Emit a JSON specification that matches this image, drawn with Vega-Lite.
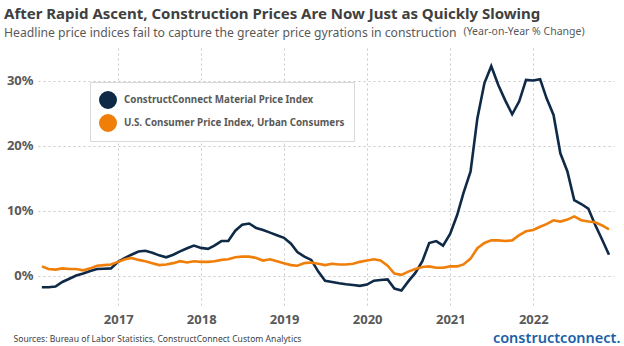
{
  "$schema": "https://vega.github.io/schema/vega-lite/v6.json",
  "width": 576,
  "height": 260,
  "autosize": {"type": "none"},
  "padding": {"left": 38, "top": 48, "right": 10, "bottom": 38},
  "background": "white",
  "config": {"view": {"stroke": null}, "font": "Noto Sans"},
  "title": {
    "text": "After Rapid Ascent, Construction Prices Are Now Just as Quickly Slowing",
    "subtitle": "Headline price indices fail to capture the greater price gyrations in construction",
    "anchor": "start",
    "frame": "group",
    "dx": -34,
    "offset": -13,
    "font": "Noto Sans",
    "fontSize": 15,
    "fontWeight": "bold",
    "color": "#404040",
    "subtitleFont": "Noto Sans",
    "subtitleFontSize": 12.2,
    "subtitleColor": "#595959",
    "subtitlePadding": 5
  },
  "data": {"values": [
    {"date": "2016-01-31", "mpi": -1.8, "cpi": 1.4},
    {"date": "2016-02-29", "mpi": -1.8, "cpi": 1.0},
    {"date": "2016-03-31", "mpi": -1.7, "cpi": 0.9},
    {"date": "2016-04-30", "mpi": -1.0, "cpi": 1.1},
    {"date": "2016-05-31", "mpi": -0.5, "cpi": 1.0},
    {"date": "2016-06-30", "mpi": 0.0, "cpi": 1.0},
    {"date": "2016-07-31", "mpi": 0.3, "cpi": 0.8},
    {"date": "2016-08-31", "mpi": 0.7, "cpi": 1.1},
    {"date": "2016-09-30", "mpi": 1.0, "cpi": 1.5},
    {"date": "2016-10-31", "mpi": 1.05, "cpi": 1.6},
    {"date": "2016-11-30", "mpi": 1.1, "cpi": 1.7},
    {"date": "2016-12-31", "mpi": 2.1, "cpi": 2.1},
    {"date": "2017-01-31", "mpi": 2.7, "cpi": 2.5},
    {"date": "2017-02-28", "mpi": 3.2, "cpi": 2.7},
    {"date": "2017-03-31", "mpi": 3.7, "cpi": 2.4},
    {"date": "2017-04-30", "mpi": 3.8, "cpi": 2.2},
    {"date": "2017-05-31", "mpi": 3.5, "cpi": 1.9},
    {"date": "2017-06-30", "mpi": 3.1, "cpi": 1.6},
    {"date": "2017-07-31", "mpi": 2.8, "cpi": 1.7},
    {"date": "2017-08-31", "mpi": 3.2, "cpi": 1.9},
    {"date": "2017-09-30", "mpi": 3.7, "cpi": 2.2},
    {"date": "2017-10-31", "mpi": 4.2, "cpi": 2.0},
    {"date": "2017-11-30", "mpi": 4.6, "cpi": 2.2},
    {"date": "2017-12-31", "mpi": 4.25, "cpi": 2.1},
    {"date": "2018-01-31", "mpi": 4.1, "cpi": 2.1},
    {"date": "2018-02-28", "mpi": 4.6, "cpi": 2.2},
    {"date": "2018-03-31", "mpi": 5.3, "cpi": 2.4},
    {"date": "2018-04-30", "mpi": 5.3, "cpi": 2.5},
    {"date": "2018-05-31", "mpi": 6.9, "cpi": 2.8},
    {"date": "2018-06-30", "mpi": 7.8, "cpi": 2.9},
    {"date": "2018-07-31", "mpi": 8.0, "cpi": 2.9},
    {"date": "2018-08-31", "mpi": 7.3, "cpi": 2.7},
    {"date": "2018-09-30", "mpi": 7.0, "cpi": 2.3},
    {"date": "2018-10-31", "mpi": 6.6, "cpi": 2.5},
    {"date": "2018-11-30", "mpi": 6.2, "cpi": 2.2},
    {"date": "2018-12-31", "mpi": 5.8, "cpi": 1.9},
    {"date": "2019-01-31", "mpi": 4.9, "cpi": 1.6},
    {"date": "2019-02-28", "mpi": 3.6, "cpi": 1.5},
    {"date": "2019-03-31", "mpi": 2.9, "cpi": 1.9},
    {"date": "2019-04-30", "mpi": 2.4, "cpi": 2.0},
    {"date": "2019-05-31", "mpi": 0.6, "cpi": 1.8},
    {"date": "2019-06-30", "mpi": -0.8, "cpi": 1.6},
    {"date": "2019-07-31", "mpi": -1.0, "cpi": 1.8},
    {"date": "2019-08-31", "mpi": -1.2, "cpi": 1.7},
    {"date": "2019-09-30", "mpi": -1.35, "cpi": 1.7},
    {"date": "2019-10-31", "mpi": -1.45, "cpi": 1.8},
    {"date": "2019-11-30", "mpi": -1.6, "cpi": 2.1},
    {"date": "2019-12-31", "mpi": -1.4, "cpi": 2.3},
    {"date": "2020-01-31", "mpi": -0.8, "cpi": 2.5},
    {"date": "2020-02-29", "mpi": -0.7, "cpi": 2.3},
    {"date": "2020-03-31", "mpi": -0.6, "cpi": 1.5},
    {"date": "2020-04-30", "mpi": -2.0, "cpi": 0.3},
    {"date": "2020-05-31", "mpi": -2.3, "cpi": 0.1},
    {"date": "2020-06-30", "mpi": -0.9, "cpi": 0.6},
    {"date": "2020-07-31", "mpi": 0.4, "cpi": 1.0},
    {"date": "2020-08-31", "mpi": 2.2, "cpi": 1.3},
    {"date": "2020-09-30", "mpi": 5.0, "cpi": 1.4},
    {"date": "2020-10-31", "mpi": 5.3, "cpi": 1.2},
    {"date": "2020-11-30", "mpi": 4.6, "cpi": 1.2},
    {"date": "2020-12-31", "mpi": 6.4, "cpi": 1.4},
    {"date": "2021-01-31", "mpi": 9.3, "cpi": 1.4},
    {"date": "2021-02-28", "mpi": 12.7, "cpi": 1.7},
    {"date": "2021-03-31", "mpi": 16.0, "cpi": 2.6},
    {"date": "2021-04-30", "mpi": 24.2, "cpi": 4.2},
    {"date": "2021-05-31", "mpi": 29.6, "cpi": 5.0},
    {"date": "2021-06-30", "mpi": 32.2, "cpi": 5.4},
    {"date": "2021-07-31", "mpi": 29.3, "cpi": 5.4},
    {"date": "2021-08-31", "mpi": 26.9, "cpi": 5.3},
    {"date": "2021-09-30", "mpi": 24.8, "cpi": 5.4},
    {"date": "2021-10-31", "mpi": 26.8, "cpi": 6.2},
    {"date": "2021-11-30", "mpi": 30.1, "cpi": 6.8},
    {"date": "2021-12-31", "mpi": 30.0, "cpi": 7.0},
    {"date": "2022-01-31", "mpi": 30.2, "cpi": 7.5},
    {"date": "2022-02-28", "mpi": 27.3, "cpi": 7.9},
    {"date": "2022-03-31", "mpi": 24.7, "cpi": 8.5},
    {"date": "2022-04-30", "mpi": 18.8, "cpi": 8.3},
    {"date": "2022-05-31", "mpi": 16.0, "cpi": 8.6},
    {"date": "2022-06-30", "mpi": 11.6, "cpi": 9.1},
    {"date": "2022-07-31", "mpi": 11.0, "cpi": 8.5},
    {"date": "2022-08-31", "mpi": 10.3, "cpi": 8.3},
    {"date": "2022-09-30", "mpi": 7.8, "cpi": 8.2},
    {"date": "2022-10-31", "mpi": 5.5, "cpi": 7.7},
    {"date": "2022-11-30", "mpi": 3.2, "cpi": 7.1}
  ]},
  "transform": [{"fold": ["mpi", "cpi"], "as": ["series", "value"]}],
  "layer": [
    {
      "transform": [{"filter": "datum.series === 'mpi'"}],
      "mark": {"type": "line", "strokeWidth": 2.6},
      "encoding": {
        "x": {
          "field": "date",
          "type": "temporal",
          "scale": {
            "type": "utc",
            "domain": [
              {"year": 2016, "month": 1, "date": 14, "utc": true},
              {"year": 2022, "month": 12, "date": 22, "utc": true}
            ]
          },
          "axis": {
            "format": "%Y",
            "tickCount": {"interval": "year", "step": 1},
            "domain": false,
            "ticks": false,
            "grid": true,
            "gridDash": [2, 3],
            "gridColor": "#c8c8c8",
            "labelFont": "Noto Sans",
            "labelFontSize": 13,
            "labelFontWeight": "bold",
            "labelColor": "#595959",
            "labelPadding": 5,
            "title": "Sources:  Bureau of Labor Statistics, ConstructConnect Custom Analytics",
            "titleAnchor": "start",
            "titleAlign": "left",
            "titleBaseline": "middle",
            "titleX": -25,
            "titleY": 30,
            "titleFont": "Noto Sans",
            "titleFontSize": 8.6,
            "titleFontWeight": "normal",
            "titleColor": "#404040"
          }
        },
        "y": {
          "field": "value",
          "type": "quantitative",
          "scale": {"domain": [-5, 35], "nice": false, "zero": false},
          "axis": {
            "values": [0, 10, 20, 30],
            "labelExpr": "datum.value + '%'",
            "domain": false,
            "ticks": false,
            "grid": true,
            "gridDash": [2, 3],
            "gridColor": "#c8c8c8",
            "labelFont": "Noto Sans",
            "labelFontSize": 13,
            "labelFontWeight": "bold",
            "labelColor": "#595959",
            "labelPadding": 5,
            "title": "(Year-on-Year % Change)",
            "titleAngle": 0,
            "titleAlign": "left",
            "titleBaseline": "middle",
            "titleX": 425,
            "titleY": -17,
            "titleFont": "Noto Sans",
            "titleFontSize": 10.5,
            "titleFontWeight": "normal",
            "titleColor": "#595959"
          }
        },
        "color": {
          "field": "series",
          "type": "nominal",
          "scale": {"domain": ["mpi", "cpi"], "range": ["#0E2A47", "#F07F0A"]},
          "legend": {
            "title": null,
            "orient": "none",
            "legendX": 52,
            "legendY": 34,
            "direction": "vertical",
            "fillColor": "white",
            "strokeColor": "#d9d9d9",
            "padding": 9,
            "clipHeight": 18,
            "symbolType": "circle",
            "symbolSize": 81,
            "symbolStrokeWidth": 9,
            "symbolOpacity": 1,
            "labelFont": "Noto Sans",
            "labelFontSize": 9.8,
            "labelFontWeight": "bold",
            "labelColor": "#595959",
            "labelOffset": 7,
            "rowPadding": 5,
            "labelLimit": 400,
            "labelExpr": "datum.label == 'mpi' ? 'ConstructConnect Material Price Index' : 'U.S. Consumer Price Index, Urban Consumers'"
          }
        }
      }
    },
    {
      "transform": [{"filter": "datum.series === 'cpi'"}],
      "mark": {"type": "line", "strokeWidth": 2.6},
      "encoding": {
        "x": {"field": "date", "type": "temporal"},
        "y": {
          "field": "value",
          "type": "quantitative",
          "axis": {
            "orient": "right",
            "labels": false,
            "ticks": false,
            "domain": false,
            "grid": false,
            "title": "constructconnect.",
            "titleAngle": 0,
            "titleAlign": "right",
            "titleBaseline": "middle",
            "titleX": 6,
            "titleY": 290,
            "titleFont": "Noto Sans",
            "titleFontSize": 14.5,
            "titleFontWeight": 600,
            "titleColor": "#1B5FA8"
          }
        },
        "color": {"field": "series", "type": "nominal"}
      }
    }
  ],
  "resolve": {"axis": {"y": "independent"}}
}
